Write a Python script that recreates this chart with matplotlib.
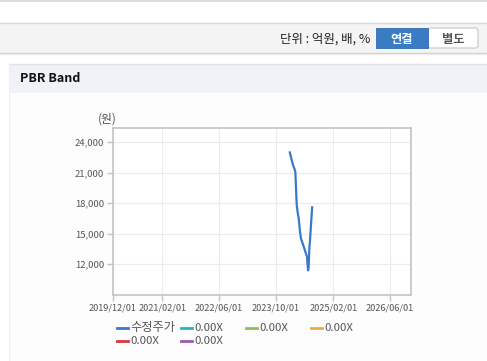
import matplotlib
matplotlib.use("Agg")
import matplotlib.pyplot as plt
import matplotlib.dates as mdates
from matplotlib.patches import Rectangle, FancyBboxPatch
from matplotlib.lines import Line2D
import pandas as pd

plt.rcParams['font.family'] = ['Noto Sans CJK KR', 'DejaVu Sans']

# ---- data ----
dates = ["2024-01-27", "2024-02-09", "2024-02-22", "2024-03-05", "2024-03-14",
         "2024-03-20", "2024-03-26", "2024-04-03", "2024-04-12", "2024-04-23",
         "2024-05-01", "2024-05-14", "2024-05-30", "2024-06-14", "2024-06-22",
         "2024-07-01", "2024-07-05", "2024-07-12", "2024-07-18", "2024-07-27",
         "2024-08-05"]
price = [23000, 22400, 21800, 21440, 21100,
         19500, 17830, 17100, 16520, 15200,
         14560, 14100, 13570, 13000, 12750,
         11400, 11600, 13500, 14390, 16030,
         17600]
x_ticks = ["2019/12/01", "2021/02/01", "2022/06/01", "2023/10/01", "2025/02/01", "2026/06/01"]
y_ticks = [12000, 15000, 18000, 21000, 24000]
legend_labels = ["수정주가", "0.00X", "0.00X", "0.00X", "0.00X", "0.00X"]
legend_colors = ["#3a78cc", "#22b5c6", "#8cc152", "#f5a83a", "#d9363e", "#9b5bb5"]

W, H = 487, 361
fig = plt.figure(figsize=(W / 100, H / 100), dpi=100)
fig.patch.set_facecolor("white")


def fx(x):
    return x / W


def fy(y):
    return 1 - y / H


def rect(x0, y0, x1, y1, **kw):
    fig.add_artist(Rectangle((fx(x0), fy(y1)), (x1 - x0) / W, (y1 - y0) / H,
                             transform=fig.transFigure, zorder=-10, **kw))


def hline(x0, x1, y, color, lw=1.0):
    fig.add_artist(Line2D([fx(x0), fx(x1)], [fy(y), fy(y)], color=color, lw=lw,
                          transform=fig.transFigure, zorder=-5))


# ---- header ----
hline(0, W, 0.6, "#d4d4d4", 1.2)
rect(0, 23, W, 52.5, facecolor="#f4f4f4", edgecolor="none")
hline(0, W, 22.6, "#d8d8d8", 1.0)
hline(0, W, 52.8, "#cfcfcf", 1.0)
hline(0, W, 54.0, "#ececec", 1.0)
fig.text(fx(370), fy(39.5), "단위 : 억원, 배, %", ha="right", va="center",
         fontsize=9, color="#222222")
fig.add_artist(FancyBboxPatch((fx(428), fy(48)), (478 - 428) / W, 20 / H,
                              boxstyle="round,pad=0,rounding_size=0.006",
                              transform=fig.transFigure, facecolor="white",
                              edgecolor="#c8c8c8", lw=0.8, zorder=-4))
fig.add_artist(Rectangle((fx(376), fy(48)), 52 / W, 19.5 / H,
                         transform=fig.transFigure, facecolor="#3a7cc4",
                         edgecolor="#2f6bb0", lw=0.6, zorder=-3))
fig.text(fx(402), fy(39), "연결", ha="center", va="center", fontsize=8.8,
         color="white", fontweight="bold")
fig.text(fx(453), fy(39), "별도", ha="center", va="center", fontsize=8.8,
         color="#555555", fontweight="bold")

# ---- panel ----
rect(9, 64, W, H, facecolor="#fdfdfd", edgecolor="none")
rect(9, 64.5, W, 92.5, facecolor="#eff2f7", edgecolor="none")
hline(9, W, 64.2, "#e2e2e2", 1.0)
fig.add_artist(Line2D([fx(9), fx(9)], [fy(64), fy(H)], color="#f0f0f0", lw=0.8,
                      transform=fig.transFigure, zorder=-5))
fig.text(fx(20), fy(79), "PBR Band", ha="left", va="center", fontsize=9,
         color="#111111", fontweight="bold")

# ---- chart ----
L, T, R, B = 112.5, 128, 410.5, 295
ax = fig.add_axes([fx(L), fy(B), (R - L) / W, (B - T) / H])
ax.set_zorder(5)
ax.set_facecolor("white")
ax.plot(pd.to_datetime(dates), price, color="#3a78cc", lw=1.6)

ax.set_xlim(pd.Timestamp("2019-12-01"), pd.Timestamp("2026-11-25"))
ax.set_ylim(8980, 25400)
ax.set_xticks(pd.to_datetime(x_ticks))
ax.set_xticklabels(x_ticks)
ax.set_yticks(y_ticks)
ax.set_yticklabels([f"{v:,}" for v in y_ticks])
ax.grid(True, color="#ebebeb", lw=0.8)
ax.set_axisbelow(True)
for s in ax.spines.values():
    s.set_color("#c4c4c4")
    s.set_linewidth(1.2)
ax.tick_params(axis="both", colors="#c4c4c4", labelcolor="#555555",
               length=4, width=1)
ax.tick_params(axis="x", pad=2, labelsize=6.6)
ax.tick_params(axis="y", pad=2, labelsize=6.8)
fig.text(fx(107), fy(119), "(원)", ha="center", va="center", fontsize=8.5,
         color="#555555")

# ---- legend ----
pos = [(117, 328), (181, 328), (246, 328), (311, 328), (117, 341), (181, 341)]
for (x, y), lab, col in zip(pos, legend_labels, legend_colors):
    fig.add_artist(Line2D([fx(x), fx(x + 11)], [fy(y), fy(y)], color=col, lw=2,
                          transform=fig.transFigure))
    fig.text(fx(x + 13), fy(y), lab, ha="left", va="center",
             fontsize=8.8 if lab != "0.00X" else 8.2, color="#555555")

fig.savefig("out.png", dpi=100)
